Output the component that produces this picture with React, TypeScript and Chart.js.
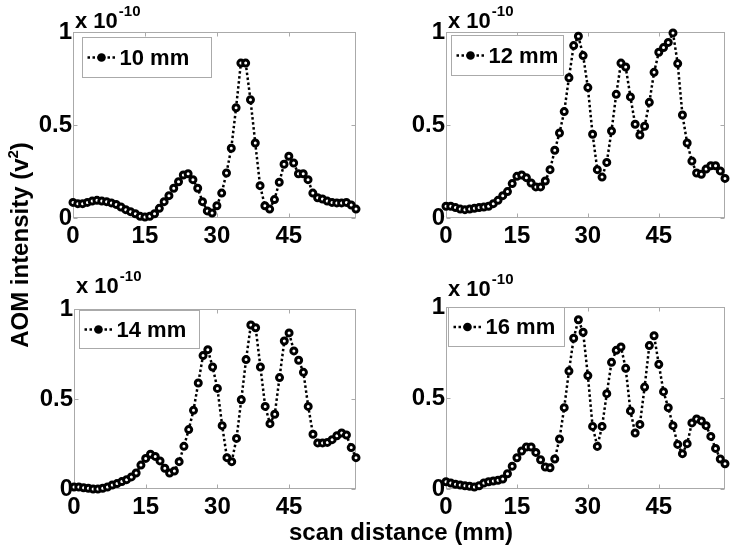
import React, { useEffect, useRef } from "react";
import { Chart, registerables } from "chart.js";

Chart.register(...registerables);

// ---- data ----
const scanDistance = [
  0, 1, 2, 3, 4, 5, 6, 7, 8, 9, 10, 11, 12, 13, 14, 15, 16, 17, 18, 19,
  20, 21, 22, 23, 24, 25, 26, 27, 28, 29, 30, 31, 32, 33, 34, 35, 36, 37, 38, 39,
  40, 41, 42, 43, 44, 45, 46, 47, 48, 49, 50, 51, 52, 53, 54, 55, 56, 57, 58, 59,
];

const depth10 = [
  0.084, 0.077, 0.077, 0.084, 0.091, 0.095, 0.091, 0.088, 0.081, 0.073,
  0.059, 0.045, 0.034, 0.023, 0.009, 0.005, 0.009, 0.023, 0.052, 0.088,
  0.12, 0.16, 0.195, 0.231, 0.238, 0.206, 0.16, 0.088, 0.038, 0.027,
  0.066, 0.134, 0.242, 0.375, 0.593, 0.833, 0.833, 0.636, 0.403, 0.174,
  0.066, 0.048, 0.099, 0.192, 0.289, 0.332, 0.296, 0.238, 0.238, 0.206,
  0.134, 0.109, 0.102, 0.091, 0.084, 0.081, 0.081, 0.084, 0.07, 0.048,
];

const depth12 = [
  0.063, 0.063, 0.056, 0.048, 0.045, 0.048, 0.052, 0.056, 0.059, 0.063,
  0.077, 0.095, 0.12, 0.142, 0.185, 0.224, 0.231, 0.217, 0.188, 0.167,
  0.167, 0.199, 0.26, 0.364, 0.457, 0.572, 0.754, 0.927, 0.977, 0.873,
  0.701, 0.45, 0.26, 0.22, 0.299, 0.468, 0.665, 0.833, 0.812, 0.651,
  0.504, 0.446, 0.493, 0.622, 0.783, 0.891, 0.916, 0.944, 0.995, 0.83,
  0.554, 0.403, 0.306, 0.242, 0.235, 0.263, 0.281, 0.281, 0.253, 0.213,
];

const depth14 = [
  0.011, 0.011, 0.007, 0.004, 0.0, 0.0, 0.004, 0.011, 0.022, 0.03,
  0.041, 0.052, 0.067, 0.089, 0.133, 0.17, 0.193, 0.181, 0.156, 0.115,
  0.089, 0.1, 0.152, 0.237, 0.33, 0.437, 0.589, 0.741, 0.774, 0.678,
  0.559, 0.352, 0.174, 0.152, 0.281, 0.496, 0.719, 0.911, 0.896, 0.678,
  0.459, 0.363, 0.415, 0.619, 0.822, 0.867, 0.767, 0.715, 0.648, 0.459,
  0.304, 0.256, 0.256, 0.259, 0.274, 0.296, 0.311, 0.3, 0.23, 0.174,
];

const depth16 = [
  0.04, 0.033, 0.026, 0.022, 0.018, 0.015, 0.011, 0.018, 0.033, 0.04,
  0.044, 0.048, 0.055, 0.084, 0.125, 0.172, 0.209, 0.231, 0.231, 0.201,
  0.161, 0.121, 0.117, 0.165, 0.275, 0.447, 0.648, 0.828, 0.93, 0.861,
  0.623, 0.344, 0.234, 0.344, 0.524, 0.696, 0.762, 0.78, 0.663, 0.429,
  0.308, 0.355, 0.56, 0.788, 0.842, 0.685, 0.535, 0.447, 0.348, 0.245,
  0.194, 0.249, 0.363, 0.385, 0.374, 0.348, 0.289, 0.223, 0.165, 0.139,
];

const seriesLabels = ["10 mm", "12 mm", "14 mm", "16 mm"];
const seriesValues = [depth10, depth12, depth14, depth16];
const xTickValues = [0, 15, 30, 45];
const yTickValues = [0, 0.5, 1];
const yTickLabels = ["0", "0.5", "1"];
const scaleBase = "x 10";
const scaleExponent = "-10";
const xTitle = "scan distance (mm)";
const yTitleMain = "AOM intensity (v";
const yTitleSup = "2";
const yTitleEnd = ")";

// ---- layout (positions / styles) ----
const FONT = "'Liberation Sans', Arial, Helvetica, sans-serif";
const Y_AXIS_W = 60;
const X_AXIS_H = 34;
const BOX_COLOR = "#aaaaaa";

type Rect = { x: number; y: number; w: number; h: number };
type Plot = { l: number; t: number; r: number; b: number };
type Leg = { dx: number; dy: number; w: number; h: number };
type PanelLayout = { canvas: Rect; plot: Plot; legend: Leg; expBaseline: number };

const panels: PanelLayout[] = [
  {
    canvas: { x: 0, y: 0, w: 366, h: 262 },
    plot: { l: 73, t: 32, r: 356, b: 218 },
    legend: { dx: 9, dy: 5, w: 129, h: 40 },
    expBaseline: 28,
  },
  {
    canvas: { x: 366, y: 0, w: 366, h: 262 },
    plot: { l: 446, t: 32, r: 727, b: 218 },
    legend: { dx: 5, dy: 3, w: 112, h: 40 },
    expBaseline: 28,
  },
  {
    canvas: { x: 0, y: 262, w: 366, h: 285 },
    plot: { l: 74, t: 309, r: 356, b: 489 },
    legend: { dx: 5, dy: 1, w: 120, h: 38 },
    expBaseline: 293,
  },
  {
    canvas: { x: 366, y: 262, w: 366, h: 285 },
    plot: { l: 446, t: 307, r: 727, b: 489 },
    legend: { dx: 2, dy: 0, w: 116, h: 39 },
    expBaseline: 296,
  },
];

function Panel({ index }: { index: number }) {
  const ref = useRef<HTMLCanvasElement | null>(null);
  const lay = panels[index];
  const label = seriesLabels[index];
  const values = seriesValues[index];

  useEffect(() => {
    if (!ref.current) return;
    const c = lay.canvas;
    const p = lay.plot;
    const padding = {
      left: p.l - c.x - Y_AXIS_W,
      top: p.t - c.y,
      right: c.x + c.w - p.r,
      bottom: c.y + c.h - p.b - X_AXIS_H,
    };

    const boxPlugin = {
      id: "matlabBox",
      beforeDatasetsDraw(chart: any) {
        const { ctx, chartArea: a, scales } = chart;
        ctx.save();
        ctx.strokeStyle = BOX_COLOR;
        ctx.lineWidth = 1;
        const L = Math.round(a.left) + 0.5;
        const T = Math.round(a.top) + 0.5;
        const R = Math.round(a.right) - 0.5;
        const B = Math.round(a.bottom) - 0.5;
        ctx.strokeRect(L, T, R - L, B - T);
        ctx.beginPath();
        for (const v of xTickValues) {
          const px = Math.round(scales.x.getPixelForValue(v)) + 0.5;
          ctx.moveTo(px, B);
          ctx.lineTo(px, B - 4);
          ctx.moveTo(px, T);
          ctx.lineTo(px, T + 4);
        }
        for (const v of yTickValues) {
          const py = Math.round(scales.y.getPixelForValue(v)) + 0.5;
          ctx.moveTo(L, py);
          ctx.lineTo(L + 4, py);
          ctx.moveTo(R, py);
          ctx.lineTo(R - 4, py);
        }
        ctx.stroke();
        ctx.restore();
      },
      afterDraw(chart: any) {
        const { ctx, chartArea: a } = chart;
        ctx.save();
        // legend box
        const lg = lay.legend;
        const bx = Math.round(a.left + lg.dx) + 0.5;
        const by = Math.round(a.top + lg.dy) + 0.5;
        ctx.fillStyle = "#ffffff";
        ctx.fillRect(bx, by, lg.w, lg.h);
        ctx.strokeStyle = BOX_COLOR;
        ctx.lineWidth = 1;
        ctx.strokeRect(bx, by, lg.w, lg.h);
        const cy = by + lg.h / 2;
        ctx.strokeStyle = "#000";
        ctx.lineWidth = 2.5;
        ctx.setLineDash([2.5, 2.5]);
        ctx.beginPath();
        ctx.moveTo(bx + 5, cy);
        ctx.lineTo(bx + 34, cy);
        ctx.stroke();
        ctx.setLineDash([]);
        ctx.fillStyle = "#000";
        ctx.beginPath();
        ctx.arc(bx + 19, cy, 4.3, 0, Math.PI * 2);
        ctx.fill();
        ctx.font = `bold 22px ${FONT}`;
        ctx.textBaseline = "middle";
        ctx.textAlign = "left";
        ctx.fillText(label, bx + 37, cy + 1);
        // exponent label
        const ex = a.left + 2;
        const ey = lay.expBaseline - c.y;
        ctx.textBaseline = "alphabetic";
        ctx.font = `bold 22px ${FONT}`;
        ctx.fillText(scaleBase, ex, ey);
        const w = ctx.measureText(scaleBase).width;
        ctx.font = `bold 15px ${FONT}`;
        ctx.fillText(scaleExponent, ex + w + 1, ey - 12);
        ctx.restore();
      },
    };

    const chart = new Chart(ref.current, {
      type: "line",
      data: {
        datasets: [
          {
            label,
            data: scanDistance.map((x, i) => ({ x, y: values[i] })),
            borderColor: "#000",
            borderWidth: 2.5,
            borderDash: [2.5, 2.5],
            pointRadius: 3,
            pointBorderWidth: 3,
            pointBackgroundColor: "#fff",
            pointBorderColor: "#000",
            tension: 0,
            clip: false as any,
          },
        ],
      },
      options: {
        responsive: false,
        animation: false,
        events: [],
        layout: { padding },
        plugins: { legend: { display: false }, tooltip: { enabled: false } },
        scales: {
          x: {
            type: "linear",
            min: 0,
            max: 59,
            grid: { display: false, drawTicks: false },
            border: { display: false },
            afterBuildTicks: (s: any) => {
              s.ticks = xTickValues.map((v) => ({ value: v }));
            },
            afterFit: (s: any) => {
              s.height = X_AXIS_H;
            },
            ticks: {
              color: "#000",
              padding: 4,
              maxRotation: 0,
              autoSkip: false,
              font: { family: FONT, size: 24, weight: "bold" },
              callback: (v: any) => String(v),
            },
          },
          y: {
            type: "linear",
            min: 0,
            max: 1,
            grid: { display: false, drawTicks: false },
            border: { display: false },
            afterBuildTicks: (s: any) => {
              s.ticks = yTickValues.map((v) => ({ value: v }));
            },
            afterFit: (s: any) => {
              s.width = Y_AXIS_W;
            },
            ticks: {
              color: "#000",
              padding: 1,
              autoSkip: false,
              font: { family: FONT, size: 24, weight: "bold" },
              callback: (v: any) => {
                const k = yTickValues.indexOf(Number(v));
                return k >= 0 ? yTickLabels[k] : "";
              },
            },
          },
        },
      } as any,
      plugins: [boxPlugin],
    });
    return () => chart.destroy();
  }, []);

  const c = lay.canvas;
  return (
    <canvas
      ref={ref}
      width={c.w}
      height={c.h}
      style={{ position: "absolute", left: c.x, top: c.y, width: c.w, height: c.h }}
    />
  );
}

export default function App() {
  return (
    <div
      style={{
        position: "fixed",
        left: 0,
        top: 0,
        width: 732,
        height: 547,
        background: "#fff",
        overflow: "hidden",
        fontFamily: FONT,
      }}
    >
      {panels.map((_, i) => (
        <Panel key={i} index={i} />
      ))}
      <div
        style={{
          position: "absolute",
          left: 0,
          width: 802,
          top: 520,
          height: 24,
          lineHeight: "24px",
          textAlign: "center",
          fontSize: 24,
          fontWeight: "bold",
          color: "#000",
          whiteSpace: "nowrap",
        }}
      >
        {xTitle}
      </div>
      <div
        style={{
          position: "absolute",
          left: 20 - 160,
          top: 245 - 15,
          width: 320,
          height: 30,
          lineHeight: "30px",
          textAlign: "center",
          fontSize: 24,
          fontWeight: "bold",
          color: "#000",
          whiteSpace: "nowrap",
          transform: "rotate(-90deg)",
          transformOrigin: "center center",
        }}
      >
        {yTitleMain}
        <span style={{ fontSize: 15, position: "relative", top: -10 }}>{yTitleSup}</span>
        {yTitleEnd}
      </div>
    </div>
  );
}
